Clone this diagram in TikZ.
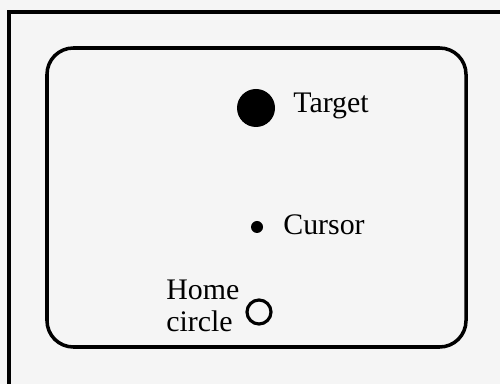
\documentclass[tikz,border=0pt]{standalone}
\usepackage{fontspec}
\setmainfont{Liberation Serif}
\usetikzlibrary{positioning}

\begin{document}
\begin{tikzpicture}[x=0.02cm, y=-0.02cm, font=\fontsize{17}{18.4}\selectfont, frame/.style={draw, line width=2pt}, dot/.style={circle, fill, inner sep=0pt, minimum size=#1}, lbl/.style={inner sep=0pt, anchor=base west}]
\useasboundingbox (0,0) rectangle (500,384);
\fill[black!4] (0,0) rectangle (500,384);
\clip (0,0) rectangle (500,384);
\draw[frame] (9,12) rectangle (520,400);
\draw[frame, rounded corners=15] (47,48) rectangle (466,347);
\node[dot=38*0.02cm] (target) at (256,108) {};
\node[dot=12*0.02cm] (cursor) at (257,227) {};
\node[circle, draw, line width=1.8pt, inner sep=0pt, minimum size=24*0.02cm] (home) at (259,312) {};
\node[lbl] (targetlbl) at (293,113) {Target};
\node[lbl] (cursorlbl) at (283,235) {Cursor};
\node[lbl, align=left] (homelbl) at (166,332) {Home\\circle};
\end{tikzpicture}
\end{document}
